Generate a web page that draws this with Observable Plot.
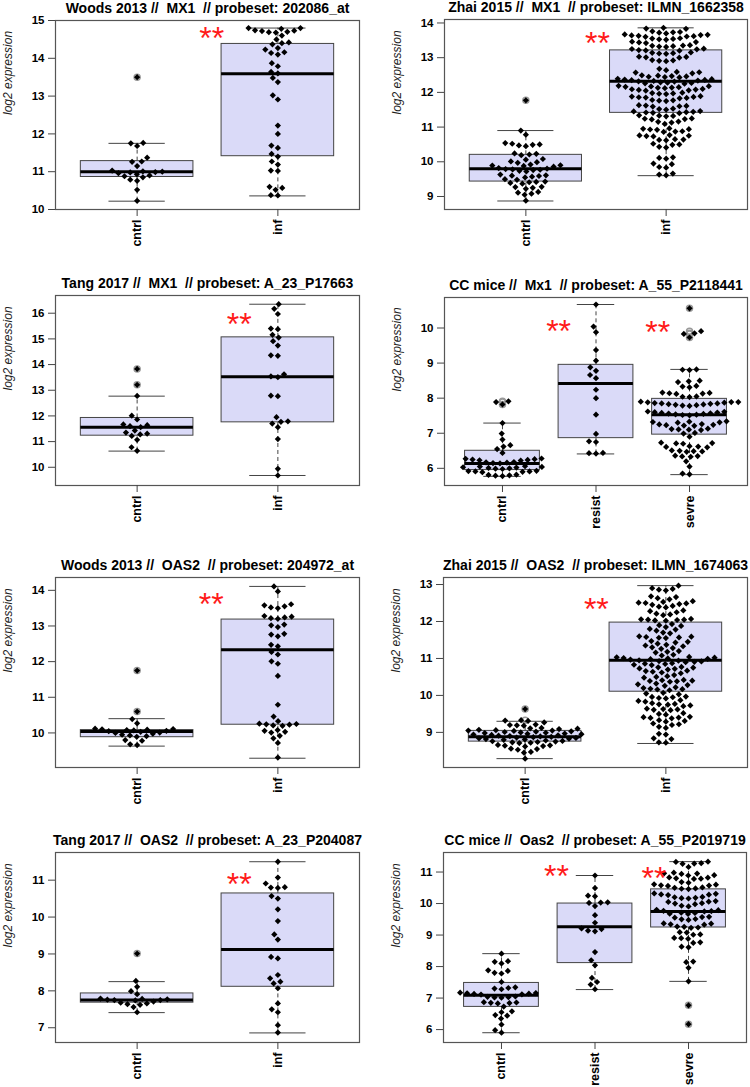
<!DOCTYPE html>
<html><head><meta charset="utf-8">
<script src="https://cdn.jsdelivr.net/npm/d3@7"></script>
<script src="https://cdn.jsdelivr.net/npm/@observablehq/plot@0.6"></script>
<style>
body{margin:0;background:#fff;}
#chart{position:relative;width:750px;height:1087px;overflow:hidden;background:#fff;}
#chart svg{position:absolute;}
</style></head><body><div id="chart"></div>
<script>
// ---------- data ----------
const twoGroups = ["cntrl", "inf"];
const threeGroups = ["cntrl", "resist", "sevre"];

// Panel 1: Woods 2013 MX1
const woodsMx1Cntrl = [13.50, 11.76, 11.75, 11.68, 11.37, 11.27, 11.26, 11.15, 11.03, 11.01, 11.00, 10.99, 10.98, 10.96, 10.93, 10.90, 10.88, 10.85, 10.79, 10.76, 10.52, 10.23];
const woodsMx1Inf = [14.80, 14.80, 14.78, 14.74, 14.73, 14.72, 14.70, 14.69, 14.68, 14.60, 14.50, 14.42, 14.40, 14.37, 14.27, 14.23, 14.16, 14.14, 14.10, 13.87, 13.79, 13.64, 13.60, 13.48, 13.37, 13.02, 12.91, 12.22, 12.00, 11.69, 11.63, 11.47, 11.40, 11.27, 11.19, 11.03, 11.02, 10.60, 10.57, 10.52, 10.38, 10.37];
const woodsMx1Box = [[10.22, 10.86, 11.00, 11.28, 11.75], [10.36, 11.41, 13.59, 14.38, 14.80]];
const woodsMx1Stars = [{x: 1.53, y: 14.74}];

// Panel 2: Zhai 2015 MX1
const zhaiMx1Cntrl = [11.77, 10.90, 10.78, 10.54, 10.52, 10.50, 10.49, 10.47, 10.45, 10.24, 10.23, 10.21, 10.19, 10.08, 10.06, 10.01, 9.99, 9.97, 9.92, 9.90, 9.89, 9.88, 9.86, 9.82, 9.80, 9.79, 9.78, 9.77, 9.76, 9.74, 9.72, 9.63, 9.61, 9.60, 9.59, 9.57, 9.55, 9.50, 9.48, 9.43, 9.42, 9.41, 9.39, 9.37, 9.28, 9.27, 9.25, 9.22, 9.13, 9.11, 9.08, 9.05, 8.88];
const zhaiMx1Inf = [13.86, 13.84, 13.83, 13.76, 13.74, 13.73, 13.72, 13.70, 13.67, 13.66, 13.65, 13.64, 13.63, 13.62, 13.61, 13.60, 13.56, 13.55, 13.54, 13.53, 13.52, 13.46, 13.45, 13.44, 13.42, 13.36, 13.35, 13.34, 13.33, 13.32, 13.31, 13.26, 13.25, 13.24, 13.22, 13.21, 13.20, 13.15, 13.14, 13.13, 13.12, 13.11, 13.03, 13.02, 13.01, 13.00, 12.93, 12.92, 12.91, 12.90, 12.68, 12.64, 12.59, 12.58, 12.57, 12.55, 12.49, 12.48, 12.47, 12.46, 12.45, 12.44, 12.43, 12.39, 12.38, 12.37, 12.36, 12.35, 12.34, 12.33, 12.32, 12.31, 12.29, 12.28, 12.27, 12.26, 12.25, 12.19, 12.18, 12.17, 12.16, 12.15, 12.14, 12.13, 12.12, 12.10, 12.09, 12.08, 12.07, 12.06, 12.05, 11.99, 11.98, 11.97, 11.96, 11.95, 11.89, 11.88, 11.87, 11.86, 11.85, 11.84, 11.83, 11.78, 11.77, 11.76, 11.75, 11.63, 11.62, 11.61, 11.60, 11.59, 11.53, 11.52, 11.50, 11.46, 11.45, 11.44, 11.43, 11.42, 11.41, 11.40, 11.34, 11.33, 11.32, 11.31, 11.25, 11.24, 11.23, 11.22, 11.16, 11.15, 11.13, 11.09, 10.96, 10.95, 10.94, 10.93, 10.92, 10.88, 10.87, 10.86, 10.77, 10.76, 10.75, 10.74, 10.73, 10.65, 10.64, 10.63, 10.62, 10.52, 10.50, 10.49, 10.43, 10.41, 10.13, 10.11, 10.09, 9.95, 9.93, 9.85, 9.83, 9.66, 9.63, 9.61];
const zhaiMx1Box = [[8.87, 9.43, 9.80, 10.20, 10.90], [9.60, 11.41, 12.32, 13.21, 13.86]];
const zhaiMx1Stars = [{x: 1.51, y: 13.64}];

// Panel 3: Tang 2017 MX1
const tangMx1Cntrl = [13.83, 13.21, 12.78, 12.01, 11.86, 11.67, 11.64, 11.60, 11.56, 11.43, 11.35, 11.31, 11.28, 11.22, 11.07, 10.78, 10.64];
const tangMx1Inf = [16.35, 16.17, 15.97, 15.40, 15.38, 15.16, 15.05, 14.91, 14.74, 14.36, 14.34, 13.62, 13.54, 13.51, 12.79, 12.77, 11.95, 11.79, 11.77, 11.70, 11.56, 11.10, 9.94, 9.68];
const tangMx1Box = [[10.63, 11.23, 11.56, 11.92, 12.77], [9.68, 11.75, 13.53, 15.06, 16.35]];
const tangMx1Stars = [{x: 1.725, y: 15.85}];

// Panel 4: CC mice Mx1
const ccMx1Cntrl = [7.91, 7.89, 7.82, 7.29, 6.99, 6.82, 6.66, 6.62, 6.55, 6.44, 6.28, 6.27, 6.26, 6.25, 6.24, 6.23, 6.22, 6.18, 6.17, 6.16, 6.15, 6.14, 6.06, 6.05, 6.04, 6.03, 6.02, 6.01, 6.00, 5.99, 5.98, 5.93, 5.92, 5.91, 5.91, 5.90, 5.89, 5.82, 5.81, 5.80, 5.79, 5.78];
const ccMx1Resist = [10.67, 10.04, 9.88, 9.37, 9.07, 8.88, 8.78, 8.66, 8.57, 8.24, 8.00, 7.53, 6.98, 6.77, 6.75, 6.44, 6.43, 6.42];
const ccMx1Sevre = [10.56, 9.91, 9.85, 9.83, 9.73, 8.82, 8.81, 8.80, 8.50, 8.48, 8.46, 8.35, 8.33, 8.31, 8.16, 8.15, 8.14, 8.13, 8.12, 8.05, 8.04, 8.03, 7.90, 7.89, 7.89, 7.88, 7.87, 7.86, 7.85, 7.85, 7.84, 7.83, 7.82, 7.81, 7.80, 7.79, 7.78, 7.62, 7.61, 7.60, 7.59, 7.58, 7.57, 7.56, 7.55, 7.54, 7.53, 7.52, 7.51, 7.34, 7.33, 7.32, 7.31, 7.30, 7.26, 7.25, 7.24, 7.23, 7.22, 7.21, 7.13, 7.12, 7.11, 7.10, 7.09, 7.01, 6.99, 6.90, 6.73, 6.72, 6.71, 6.70, 6.63, 6.62, 6.61, 6.60, 6.51, 6.50, 6.49, 6.48, 6.47, 6.36, 6.35, 6.34, 6.33, 6.20, 6.05, 5.85, 5.83];
const ccMx1Box = [[5.77, 5.95, 6.14, 6.50, 7.29], [6.41, 6.86, 8.42, 8.95, 10.67], [5.82, 6.96, 7.53, 7.98, 8.82]];
const ccMx1Stars = [{x: 1.60, y: 10.11}, {x: 2.66, y: 10.10}];

// Panel 5: Woods 2013 OAS2
const woodsOas2Cntrl = [11.75, 10.60, 10.39, 10.27, 10.12, 10.11, 10.10, 10.09, 10.08, 10.07, 10.06, 10.05, 10.03, 10.01, 10.00, 9.98, 9.95, 9.93, 9.91, 9.89, 9.80, 9.78, 9.68, 9.66];
const woodsOas2Inf = [14.11, 13.97, 13.61, 13.58, 13.55, 13.52, 13.50, 13.28, 13.26, 13.24, 13.22, 13.20, 13.04, 13.02, 12.97, 12.78, 12.76, 12.71, 12.47, 12.43, 12.27, 12.20, 12.01, 11.94, 11.60, 10.79, 10.46, 10.33, 10.26, 10.25, 10.24, 10.23, 10.21, 10.20, 10.08, 10.06, 10.03, 10.01, 9.92, 9.85, 9.72, 9.31];
const woodsOas2Box = [[9.63, 9.88, 10.04, 10.08, 10.40], [9.29, 10.23, 12.33, 13.18, 14.11]];
const woodsOas2Stars = [{x: 1.526, y: 13.81}];

// Panel 6: Zhai 2015 OAS2
const zhaiOas2Cntrl = [9.63, 9.33, 9.32, 9.31, 9.27, 9.21, 9.20, 9.19, 9.18, 9.12, 9.11, 9.10, 9.09, 9.07, 9.06, 9.05, 9.05, 9.04, 9.03, 9.02, 9.01, 9.00, 8.99, 8.98, 8.97, 8.96, 8.95, 8.94, 8.93, 8.92, 8.91, 8.90, 8.89, 8.88, 8.87, 8.86, 8.85, 8.84, 8.83, 8.82, 8.81, 8.80, 8.78, 8.77, 8.76, 8.75, 8.74, 8.73, 8.72, 8.71, 8.66, 8.65, 8.64, 8.63, 8.62, 8.56, 8.55, 8.53, 8.47, 8.45, 8.29];
const zhaiOas2Inf = [12.97, 12.90, 12.88, 12.86, 12.84, 12.68, 12.66, 12.63, 12.60, 12.55, 12.53, 12.51, 12.50, 12.49, 12.47, 12.45, 12.42, 12.40, 12.38, 12.30, 12.28, 12.25, 12.21, 12.19, 12.17, 12.07, 12.06, 12.05, 12.05, 12.04, 12.03, 12.02, 11.93, 11.90, 11.88, 11.85, 11.80, 11.78, 11.75, 11.70, 11.68, 11.60, 11.59, 11.58, 11.57, 11.56, 11.55, 11.47, 11.45, 11.43, 11.40, 11.37, 11.35, 11.33, 11.30, 11.28, 11.26, 11.20, 11.18, 11.16, 11.10, 11.08, 11.04, 11.03, 11.02, 11.01, 11.00, 10.99, 10.98, 10.97, 10.95, 10.94, 10.93, 10.92, 10.91, 10.90, 10.87, 10.86, 10.85, 10.83, 10.82, 10.77, 10.76, 10.75, 10.73, 10.72, 10.70, 10.67, 10.66, 10.64, 10.62, 10.60, 10.55, 10.52, 10.50, 10.48, 10.42, 10.41, 10.40, 10.39, 10.38, 10.37, 10.32, 10.30, 10.28, 10.26, 10.22, 10.20, 10.18, 10.17, 10.16, 10.14, 10.07, 10.05, 10.03, 9.97, 9.96, 9.95, 9.93, 9.92, 9.87, 9.85, 9.83, 9.79, 9.77, 9.76, 9.75, 9.73, 9.71, 9.64, 9.63, 9.62, 9.61, 9.60, 9.52, 9.50, 9.48, 9.42, 9.41, 9.40, 9.39, 9.38, 9.33, 9.31, 9.29, 9.24, 9.22, 9.20, 9.15, 9.12, 8.96, 8.94, 8.84, 8.82, 8.73, 8.72];
const zhaiOas2Box = [[8.29, 8.75, 8.88, 9.04, 9.30], [8.70, 10.10, 10.95, 11.97, 12.97]];
const zhaiOas2Stars = [{x: 1.506, y: 12.53}];

// Panel 7: Tang 2017 OAS2
const tangOas2Cntrl = [9.01, 8.27, 8.11, 7.99, 7.91, 7.79, 7.78, 7.77, 7.76, 7.75, 7.75, 7.74, 7.71, 7.68, 7.66, 7.64, 7.62, 7.56, 7.42];
const tangOas2Inf = [11.50, 11.07, 10.91, 10.81, 10.80, 10.79, 10.57, 10.50, 10.21, 9.89, 9.53, 9.39, 8.92, 8.88, 8.43, 8.34, 8.25, 8.20, 8.07, 7.66, 7.50, 7.42, 7.07, 6.87];
const tangOas2Box = [[7.41, 7.68, 7.75, 7.93, 8.25], [6.86, 8.11, 9.12, 10.64, 11.50]];
const tangOas2Stars = [{x: 1.725, y: 11.09}];

// Panel 8: CC mice Oas2
const ccOas2Cntrl = [8.41, 8.17, 8.15, 8.10, 7.88, 7.86, 7.80, 7.78, 7.51, 7.34, 7.32, 7.30, 7.28, 7.17, 7.16, 7.15, 7.14, 7.13, 7.12, 7.11, 7.05, 7.04, 7.03, 7.02, 7.01, 6.87, 6.86, 6.85, 6.84, 6.83, 6.73, 6.58, 6.55, 6.46, 6.44, 6.35, 6.16, 5.98, 5.90];
const ccOas2Resist = [10.89, 10.49, 10.25, 10.23, 10.04, 10.03, 10.02, 9.92, 9.63, 9.39, 9.21, 9.19, 9.14, 9.12, 8.46, 8.20, 8.04, 7.64, 7.51, 7.43, 7.28];
const ccOas2Sevre = [11.33, 11.32, 11.28, 11.27, 11.26, 11.16, 10.98, 10.96, 10.95, 10.94, 10.90, 10.89, 10.83, 10.82, 10.80, 10.79, 10.78, 10.68, 10.66, 10.61, 10.60, 10.58, 10.57, 10.56, 10.51, 10.50, 10.48, 10.47, 10.46, 10.32, 10.31, 10.29, 10.28, 10.27, 10.21, 10.20, 10.18, 10.17, 10.16, 10.08, 10.06, 10.05, 10.01, 10.00, 9.98, 9.93, 9.91, 9.80, 9.79, 9.77, 9.76, 9.75, 9.71, 9.70, 9.68, 9.67, 9.58, 9.57, 9.55, 9.51, 9.50, 9.48, 9.37, 9.36, 9.34, 9.33, 9.27, 9.26, 9.24, 9.23, 9.09, 9.08, 9.02, 9.01, 8.91, 8.90, 8.88, 8.77, 8.75, 8.63, 8.61, 8.16, 8.14, 7.96, 7.53, 6.77, 6.17];
const ccOas2Box = [[5.90, 6.72, 7.09, 7.48, 8.41], [7.27, 8.11, 9.26, 10.00, 10.89], [7.53, 9.24, 9.75, 10.45, 11.33]];
const ccOas2Stars = [{x: 1.587, y: 11.10}, {x: 2.63, y: 11.05}];

// ---------- panel configuration (layout) ----------
const panels = [
  {title: "Woods 2013 //  MX1  // probeset: 202086_at", groups: twoGroups, values: [woodsMx1Cntrl, woodsMx1Inf], box: woodsMx1Box, stars: woodsMx1Stars,
   yDomain: [10.0, 15.0], yTicks: [10, 11, 12, 13, 14, 15], left: 0, top: 0, height: 270, m: [20, 16, 61, 55]},
  {title: "Zhai 2015 //  MX1  // probeset: ILMN_1662358", groups: twoGroups, values: [zhaiMx1Cntrl, zhaiMx1Inf], box: zhaiMx1Box, stars: zhaiMx1Stars,
   yDomain: [8.625, 14.1], yTicks: [9, 10, 11, 12, 13, 14], left: 375, top: 0, height: 270, m: [19, 3, 61, 69]},
  {title: "Tang 2017 //  MX1  // probeset: A_23_P17663", groups: twoGroups, values: [tangMx1Cntrl, tangMx1Inf], box: tangMx1Box, stars: tangMx1Stars,
   yDomain: [9.29, 16.69], yTicks: [10, 11, 12, 13, 14, 15, 16], left: 0, top: 270, height: 275, m: [25, 16, 60, 55]},
  {title: "CC mice //  Mx1  // probeset: A_55_P2118441", groups: threeGroups, values: [ccMx1Cntrl, ccMx1Resist, ccMx1Sevre], box: ccMx1Box, stars: ccMx1Stars,
   yDomain: [5.51, 10.87], yTicks: [6, 7, 8, 9, 10], left: 375, top: 270, height: 275, m: [27, 3, 60, 69]},
  {title: "Woods 2013 //  OAS2  // probeset: 204972_at", groups: twoGroups, values: [woodsOas2Cntrl, woodsOas2Inf], box: woodsOas2Box, stars: woodsOas2Stars,
   yDomain: [9.03, 14.36], yTicks: [10, 11, 12, 13, 14], left: 0, top: 545, height: 270, m: [32, 16, 48, 55]},
  {title: "Zhai 2015 //  OAS2  // probeset: ILMN_1674063", groups: twoGroups, values: [zhaiOas2Cntrl, zhaiOas2Inf], box: zhaiOas2Box, stars: zhaiOas2Stars,
   yDomain: [8.05, 13.19], yTicks: [9, 10, 11, 12, 13], left: 375, top: 545, height: 270, m: [32, 3, 48, 68]},
  {title: "Tang 2017 //  OAS2  // probeset: A_23_P204087", groups: twoGroups, values: [tangOas2Cntrl, tangOas2Inf], box: tangOas2Box, stars: tangOas2Stars,
   yDomain: [6.6, 11.75], yTicks: [7, 8, 9, 10, 11], left: 0, top: 815, height: 272, m: [37, 16, 45, 55]},
  {title: "CC mice //  Oas2  // probeset: A_55_P2019719", groups: threeGroups, values: [ccOas2Cntrl, ccOas2Resist, ccOas2Sevre], box: ccOas2Box, stars: ccOas2Stars,
   yDomain: [5.59, 11.62], yTicks: [6, 7, 8, 9, 10, 11], left: 375, top: 815, height: 272, m: [37, 4, 45, 68]}
];

// beeswarm (swarm) layout computed in pixel space, like R's beeswarm
function swarm(values, pxX, pxY, Dx, Dy) {
  const sorted = values.slice().sort((a, b) => a - b);
  const placed = [];
  for (const v of sorted) {
    const py = v * pxY;
    const near = placed.filter(q => Math.abs(q.py - py) < Dy);
    const cands = [0];
    for (const q of near) {
      const t = (q.py - py) / Dy;
      const dx = Dx * Math.sqrt(1 - t * t);
      cands.push(q.px + dx, q.px - dx);
    }
    cands.sort((a, b) => Math.abs(a) - Math.abs(b) || a - b);
    const best = cands.find(c => near.every(q => ((q.px - c) / Dx) ** 2 + ((q.py - py) / Dy) ** 2 >= 1 - 1e-6));
    placed.push({v, px: best, py});
  }
  return placed.map(q => ({dx: q.px / pxX, y: q.v}));
}

const chart = document.getElementById("chart");
const W = 375;
const boxFill = "#dadaf8";

for (const p of panels) {
  const [mt, mr, mb, ml] = p.m;
  const n = p.groups.length;
  const xDomain = [0.5 - 0.04 * n, n + 0.5 + 0.04 * n];
  const pxX = (W - ml - mr) / (xDomain[1] - xDomain[0]);
  const pxY = (p.height - mt - mb) / (p.yDomain[1] - p.yDomain[0]);

  const stats = p.box.map((b, k) => ({i: k + 1, lo: b[0], q1: b[1], med: b[2], q3: b[3], hi: b[4]}));
  const pts = [];
  const outl = [];
  p.values.forEach((vals, k) => {
    swarm(vals, pxX, pxY, 7, 6).forEach(d => pts.push({x: k + 1 + d.dx, y: d.y}));
    vals.forEach(v => { if (v < p.box[k][0] - 0.02 || v > p.box[k][4] + 0.02) outl.push({x: k + 1, y: v}); });
  });

  const svg = Plot.plot({
    width: W, height: p.height,
    marginTop: mt, marginRight: mr, marginBottom: mb, marginLeft: ml,
    x: {domain: xDomain, label: null},
    y: {domain: p.yDomain, label: null},
    style: {fontFamily: "'Liberation Sans', Arial, Helvetica, sans-serif", color: "#000", background: "#fff", overflow: "visible"},
    marks: [
      Plot.ruleX(stats, {x: "i", y1: "lo", y2: "q1", stroke: "#444", strokeDasharray: "4,3"}),
      Plot.ruleX(stats, {x: "i", y1: "q3", y2: "hi", stroke: "#444", strokeDasharray: "4,3"}),
      Plot.ruleY(stats, {y: "lo", x1: d => d.i - 0.2, x2: d => d.i + 0.2, stroke: "#444"}),
      Plot.ruleY(stats, {y: "hi", x1: d => d.i - 0.2, x2: d => d.i + 0.2, stroke: "#444"}),
      Plot.rect(stats, {x1: d => d.i - 0.4, x2: d => d.i + 0.4, y1: "q1", y2: "q3", fill: boxFill, stroke: "#444", strokeWidth: 1}),
      Plot.ruleY(stats, {y: "med", x1: d => d.i - 0.4, x2: d => d.i + 0.4, stroke: "#000", strokeWidth: 3}),
      Plot.dot(outl, {x: "x", y: "y", r: 3, stroke: "#999", fill: "none"}),
      Plot.dot(pts, {x: "x", y: "y", symbol: "diamond2", r: 2.8, fill: "#000", stroke: "none"}),
      Plot.text(p.stars, {x: "x", y: "y", text: () => "**", fill: "#ff1a1a", fontSize: 32, dy: 8}),
      Plot.frame({stroke: "#555", strokeWidth: 1.2}),
      Plot.axisY({ticks: p.yTicks, tickFormat: d => String(d), tickSize: 7, tickPadding: 4, fontSize: 11.5, fontWeight: "bold", stroke: "#444", label: null}),
      Plot.axisX({ticks: d3.range(1, n + 1), tickFormat: d => p.groups[d - 1], tickRotate: -90, tickSize: 7, tickPadding: 3, fontSize: 12.5, fontWeight: "bold", stroke: "#444", label: null}),
      Plot.text(["log2 expression"], {frameAnchor: "left", dx: -47, rotate: -90, fontSize: 12, fontStyle: "italic", fill: "#222"}),
      Plot.text([p.title], {frameAnchor: "top", dy: -8, lineAnchor: "bottom", fontSize: 14, fontWeight: "bold", fill: "#000"})
    ]
  });
  svg.style.left = p.left + "px";
  svg.style.top = p.top + "px";
  chart.appendChild(svg);
}
</script></body></html>
